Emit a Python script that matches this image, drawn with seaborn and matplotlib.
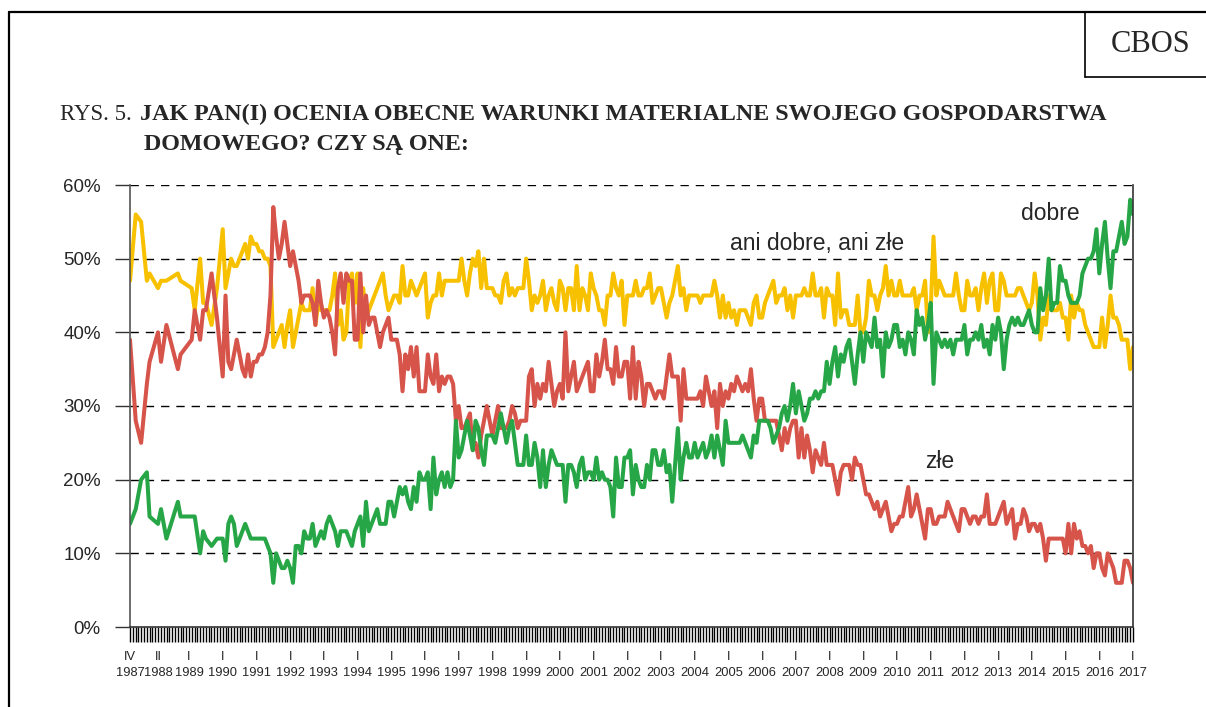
import pandas as pd
import matplotlib
matplotlib.use("Agg")
import matplotlib.pyplot as plt
import seaborn as sns
from matplotlib.lines import Line2D

# Pierwsze badania (nieregularne terminy, lata dziesiętne)
early_dates = [1987.25, 1987.42, 1987.58, 1987.75, 1987.83, 1988.08, 1988.17, 1988.33,
               1988.67, 1988.75, 1989.08, 1989.17, 1989.33, 1989.42, 1989.5, 1989.67, 1989.83]
early_dobre = [14, 16, 20, 21, 15, 14, 16, 12, 17, 15, 15, 15, 10, 13, 12, 11, 12]
early_ani = [47, 56, 55, 47, 48, 46, 47, 47, 48, 47, 46, 43, 50, 44, 44, 41, 46]
early_zle = [39, 28, 25, 33, 36, 40, 36, 41, 35, 37, 39, 43, 39, 43, 43, 48, 42]

# Badania comiesięczne od I 1990 (jeden wiersz na rok, ostatni: I 2017)
first_year = 1990
dobre_m = [
    [12, 9, 14, 15, 14, 11, 12, 13, 14, 13, 12, 12],
    [12, 12, 12, 12, 11, 10, 6, 10, 9, 8, 8, 9],
    [8, 6, 11, 11, 10, 13, 12, 12, 14, 11, 12, 13],
    [12, 14, 15, 14, 13, 11, 13, 13, 13, 12, 11, 13],
    [14, 15, 11, 17, 13, 14, 15, 16, 14, 14, 14, 17],
    [17, 15, 17, 19, 18, 19, 17, 16, 19, 17, 21, 20],
    [20, 21, 16, 23, 18, 20, 21, 19, 21, 19, 20, 28],
    [23, 24, 26, 28, 26, 24, 28, 27, 24, 22, 26, 26],
    [26, 25, 27, 29, 27, 25, 27, 28, 25, 22, 22, 22],
    [26, 22, 22, 25, 23, 19, 24, 19, 22, 24, 23, 22],
    [22, 22, 17, 22, 22, 21, 19, 22, 23, 20, 21, 21],
    [20, 23, 20, 21, 20, 20, 19, 15, 23, 19, 19, 23],
    [23, 24, 18, 22, 20, 19, 19, 22, 20, 24, 24, 22],
    [22, 24, 21, 22, 17, 22, 27, 20, 23, 25, 23, 23],
    [25, 23, 24, 25, 23, 24, 26, 23, 26, 24, 22, 28],
    [25, 25, 25, 25, 25, 26, 25, 24, 23, 26, 25, 28],
    [28, 28, 28, 27, 25, 26, 27, 29, 30, 28, 30, 33],
    [29, 32, 30, 28, 29, 31, 31, 32, 31, 32, 32, 36],
    [33, 36, 38, 34, 37, 36, 38, 39, 36, 33, 37, 40],
    [36, 40, 39, 38, 42, 38, 39, 34, 40, 38, 39, 41],
    [41, 38, 39, 37, 40, 39, 37, 43, 41, 42, 39, 41],
    [44, 33, 40, 39, 38, 39, 38, 39, 37, 39, 39, 39],
    [41, 37, 39, 39, 40, 39, 41, 38, 39, 37, 41, 39],
    [42, 40, 35, 39, 41, 42, 41, 42, 41, 41, 42, 43],
    [41, 40, 40, 46, 43, 45, 50, 43, 44, 44, 49, 47],
    [47, 45, 44, 44, 44, 45, 48, 49, 50, 50, 51, 54],
    [48, 52, 55, 50, 46, 51, 51, 53, 55, 52, 53, 58],
    [56],
]
ani_m = [
    [54, 46, 48, 50, 49, 49, 50, 51, 52, 50, 53, 52],
    [52, 51, 51, 50, 50, 49, 38, 39, 40, 41, 38, 41],
    [43, 38, 40, 42, 44, 43, 43, 43, 46, 41, 44, 43],
    [43, 43, 43, 45, 48, 41, 43, 39, 40, 47, 48, 44],
    [48, 38, 46, 42, 43, 44, 45, 46, 47, 48, 45, 43],
    [44, 45, 45, 44, 49, 45, 45, 47, 46, 45, 46, 47],
    [48, 42, 44, 45, 45, 48, 45, 47, 47, 47, 47, 47],
    [47, 50, 47, 45, 48, 50, 49, 51, 46, 50, 46, 46],
    [46, 45, 45, 44, 47, 48, 45, 46, 45, 46, 46, 46],
    [50, 47, 43, 45, 44, 45, 47, 43, 45, 46, 44, 43],
    [47, 46, 43, 46, 46, 43, 49, 43, 46, 45, 43, 48],
    [46, 45, 43, 43, 41, 45, 45, 48, 46, 45, 47, 41],
    [45, 45, 45, 47, 45, 45, 46, 46, 48, 44, 45, 46],
    [46, 44, 42, 44, 45, 47, 49, 45, 46, 43, 45, 45],
    [45, 45, 44, 45, 45, 45, 45, 47, 45, 42, 45, 42],
    [44, 42, 43, 41, 43, 43, 43, 42, 41, 44, 45, 42],
    [42, 44, 45, 46, 47, 44, 45, 45, 46, 43, 45, 42],
    [45, 45, 45, 46, 45, 45, 48, 45, 45, 46, 42, 46],
    [45, 45, 41, 48, 42, 43, 43, 41, 41, 41, 45, 40],
    [40, 42, 47, 45, 45, 43, 45, 46, 49, 45, 47, 45],
    [45, 47, 45, 45, 45, 45, 46, 43, 45, 45, 47, 40],
    [43, 53, 45, 47, 46, 45, 45, 45, 45, 48, 45, 43],
    [43, 47, 45, 45, 46, 43, 46, 48, 44, 47, 48, 43],
    [43, 48, 47, 45, 45, 45, 45, 46, 46, 45, 44, 43],
    [44, 48, 45, 39, 42, 41, 45, 43, 43, 43, 44, 42],
    [42, 39, 45, 42, 44, 43, 43, 41, 40, 39, 38, 38],
    [38, 42, 38, 41, 45, 42, 42, 41, 39, 39, 39, 35],
    [38],
]
zle_m = [
    [34, 45, 36, 35, 37, 39, 37, 35, 34, 37, 34, 36],
    [36, 37, 37, 38, 40, 45, 57, 53, 50, 52, 55, 52],
    [49, 51, 49, 47, 44, 45, 45, 45, 44, 41, 47, 44],
    [42, 43, 42, 40, 37, 46, 48, 44, 48, 47, 47, 39],
    [39, 48, 40, 45, 41, 42, 42, 40, 38, 40, 41, 42],
    [39, 39, 39, 37, 32, 37, 35, 38, 34, 38, 32, 32],
    [32, 37, 34, 33, 37, 32, 34, 33, 34, 34, 33, 28],
    [30, 27, 27, 28, 29, 24, 25, 23, 26, 28, 30, 28],
    [26, 28, 30, 27, 27, 27, 28, 30, 29, 27, 28, 28],
    [28, 34, 35, 30, 33, 31, 33, 32, 36, 33, 30, 32],
    [33, 31, 40, 32, 34, 36, 32, 33, 34, 35, 36, 32],
    [32, 37, 34, 36, 39, 35, 35, 33, 38, 34, 34, 36],
    [36, 31, 38, 31, 36, 34, 30, 33, 33, 32, 31, 32],
    [32, 31, 34, 37, 34, 34, 34, 28, 35, 31, 31, 31],
    [31, 31, 32, 30, 34, 32, 30, 32, 27, 33, 30, 32],
    [31, 33, 32, 34, 33, 32, 33, 32, 35, 31, 28, 31],
    [31, 28, 28, 28, 28, 28, 26, 24, 27, 25, 27, 28],
    [28, 23, 27, 23, 26, 24, 21, 24, 23, 22, 25, 22],
    [22, 22, 20, 18, 21, 22, 22, 22, 20, 23, 22, 22],
    [20, 18, 18, 17, 16, 17, 15, 16, 17, 15, 13, 14],
    [14, 15, 15, 17, 19, 15, 16, 18, 16, 14, 12, 16],
    [16, 14, 14, 15, 15, 15, 17, 16, 15, 14, 13, 16],
    [16, 15, 14, 15, 15, 14, 15, 15, 18, 14, 14, 14],
    [15, 16, 17, 14, 15, 16, 12, 14, 14, 16, 15, 13],
    [14, 14, 13, 14, 12, 9, 12, 12, 12, 12, 12, 12],
    [10, 14, 10, 14, 12, 13, 11, 11, 10, 11, 8, 10],
    [10, 8, 7, 10, 9, 8, 6, 6, 6, 9, 9, 8],
    [6],
]

# Etykiety osi X
tick_dates = [1987.25, 1988 + 1 / 12] + list(range(1989, 2018))
tick_labels = ["IV\n1987", "II\n1988"] + [f"I\n{y}" for y in range(1989, 2018)]

series_names = ["ani dobre, ani złe", "złe", "dobre"]
colors = {"ani dobre, ani złe": "#F8C100", "złe": "#D6544A", "dobre": "#26A646"}


def flatten(early, monthly):
    dates = list(early_dates)
    vals = list(early)
    for i, row in enumerate(monthly):
        for m, v in enumerate(row):
            dates.append(first_year + i + m / 12)
            vals.append(v)
    return dates, vals


frames = []
for name, early, monthly in [("ani dobre, ani złe", early_ani, ani_m),
                             ("złe", early_zle, zle_m),
                             ("dobre", early_dobre, dobre_m)]:
    d, v = flatten(early, monthly)
    frames.append(pd.DataFrame({"data": d, "proc": v, "seria": name}))
df = pd.concat(frames, ignore_index=True)

sns.set_style("white")
plt.rcParams["font.family"] = ["Liberation Sans", "DejaVu Sans"]

fig = plt.figure(figsize=(12.06, 7.07), dpi=100)
ax = fig.add_axes([130 / 1206, 1 - 627 / 707, 1003 / 1206, 442 / 707])

sns.lineplot(data=df, x="data", y="proc", hue="seria", hue_order=series_names,
             palette=colors, linewidth=2.9, legend=False, sort=False,
             estimator=None, ax=ax)

ax.set_xlim(1987.25, 2017.0)
ax.set_ylim(0, 60)
ax.set_xlabel("")
ax.set_ylabel("")

# Oś Y
ax.set_yticks(range(0, 61, 10))
ax.set_yticklabels([f"{v}%" for v in range(0, 61, 10)], fontsize=13.5)
ax.tick_params(axis="y", left=True, direction="out", length=11, width=1,
               color="#333333", pad=10)
for v in range(10, 61, 10):
    ax.axhline(v, color="black", lw=1, ls=(0, (6, 5)), zorder=0)

# Oś X
ax.set_xticks(tick_dates)
ax.set_xticklabels(tick_labels, fontsize=9.3, linespacing=1.5)
ax.set_xticks([1987.25 + k / 12 for k in range(0, 358)], minor=True)
ax.tick_params(axis="x", which="both", bottom=True, direction="out", length=11,
               width=1.0, color="black", pad=6)

ax.spines["top"].set_visible(False)
ax.spines["left"].set_color("#555555")
ax.spines["right"].set_color("#333333")
ax.spines["bottom"].set_color("#333333")
for side in ["left", "right", "bottom"]:
    ax.spines[side].set_linewidth(1.2)

# Opisy serii
ax.text(2014.54, 56.1, "dobre", fontsize=16.5, ha="center", va="center")
ax.text(2007.64, 52.1, "ani dobre, ani złe", fontsize=16.5, ha="center", va="center")
ax.text(2011.28, 22.5, "złe", fontsize=16.5, ha="center", va="center")

# Ramka i tytuł
fig.add_artist(Line2D([9 / 1206, 1], [1 - 12 / 707, 1 - 12 / 707], color="black", lw=1.6))
fig.add_artist(Line2D([9 / 1206, 9 / 1206], [0, 1 - 12 / 707], color="black", lw=1.6))
fig.add_artist(Line2D([1085 / 1206, 1085 / 1206], [1 - 12 / 707, 1 - 77 / 707], color="black", lw=1.2))
fig.add_artist(Line2D([1085 / 1206, 1], [1 - 77 / 707, 1 - 77 / 707], color="black", lw=1.2))
fig.text(1151 / 1206, 1 - 44 / 707, "CBOS", family="Liberation Serif", fontsize=22,
         ha="center", va="center")

fig.text(60 / 1206, 1 - 120 / 707, "RYS. 5.", family="Liberation Serif", fontsize=16.5,
         ha="left", va="baseline")
fig.text(140 / 1206, 1 - 120 / 707,
         "JAK PAN(I) OCENIA OBECNE WARUNKI MATERIALNE SWOJEGO GOSPODARSTWA",
         family="Liberation Serif", fontsize=17.3, fontweight="bold", ha="left", va="baseline")
fig.text(144 / 1206, 1 - 150 / 707, "DOMOWEGO? CZY SĄ ONE:",
         family="Liberation Serif", fontsize=17.3, fontweight="bold", ha="left", va="baseline")

fig.savefig("out.png", dpi=100, facecolor="white")
